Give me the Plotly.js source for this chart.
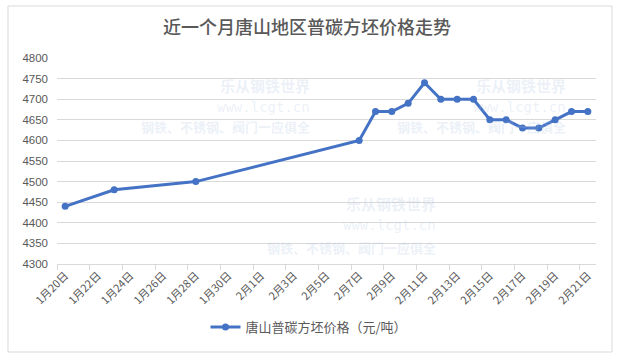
<!DOCTYPE html>
<html><head><meta charset="utf-8">
<script src="https://cdn.plot.ly/plotly-3.0.1.min.js"></script>
<style>html,body{margin:0;padding:0;background:#fff;}#chart{width:622px;height:360px;}</style>
</head><body><div id="chart"></div>
<script>
const dates = ['2023-01-20','2023-01-23','2023-01-28','2023-02-07','2023-02-08','2023-02-09','2023-02-10','2023-02-11','2023-02-12','2023-02-13','2023-02-14','2023-02-15','2023-02-16','2023-02-17','2023-02-18','2023-02-19','2023-02-20','2023-02-21'];
const prices = [4440,4480,4500,4600,4670,4670,4690,4740,4700,4700,4700,4650,4650,4630,4630,4650,4670,4670];
const seriesName = '唐山普碳方坯价格（元/吨）';
const chartTitle = '近一个月唐山地区普碳方坯价格走势';

const L=57, R=596, T=58, B=264, W=R-L, H=B-T;
const px = x => (x-L)/W, py = y => (B-y)/H;
const wmColor = 'rgba(170,195,225,0.24)';
const cjk = '"Noto Sans CJK SC", sans-serif';
function wm(xr, y1, y2, y3){
  return [
    {text:'乐从钢铁世界', x:px(xr), y:py(y1), font:{size:15, color:wmColor, family:cjk, weight:700}},
    {text:'www.lcgt.cn', x:px(xr), y:py(y2), font:{size:14, color:wmColor, family:'"DejaVu Sans Mono", monospace'}},
    {text:'钢铁、不锈钢、阀门一应俱全', x:px(xr), y:py(y3), font:{size:13, color:wmColor, family:cjk, weight:700}}
  ].map(a=>Object.assign(a,{xref:'paper',yref:'paper',xanchor:'right',yanchor:'middle',showarrow:false}));
}
const annotations = [].concat(wm(312,85,107,127), wm(438,203,225,247), wm(568,85,107,127));

const trace = {
  x: dates, y: prices, name: seriesName, type:'scatter', mode:'lines+markers',
  line:{color:'#4472C4', width:3}, marker:{color:'#4472C4', size:7}
};
const layout = {
  width:622, height:360,
  margin:{l:L, r:622-R, t:T, b:360-B},
  paper_bgcolor:'#fff', plot_bgcolor:'#fff',
  font:{family:cjk, color:'#595959'},
  title:{text:chartTitle, x:307/622, xanchor:'center', y:1-28/360, yanchor:'middle', font:{size:18, color:'#595959', family:cjk, weight:500}},
  xaxis:{type:'date', range:['2023-01-19 12:00','2023-02-21 12:00'],
    tick0:'2023-01-20', dtick:2*86400000, tickformat:'%-m月%-d日', tickangle:-45,
    tickfont:{size:11, color:'#595959', family:cjk}, ticks:'', showgrid:false,
    showline:true, linecolor:'#d9d9d9', linewidth:1, zeroline:false,
    minor:{tick0:'2023-01-19 12:00', dtick:2*86400000, ticks:'outside', ticklen:5, tickcolor:'#d9d9d9', showgrid:false}},
  yaxis:{range:[4300,4800], dtick:50, tick0:4300, showgrid:true, gridcolor:'#d9d9d9', gridwidth:1,
    zeroline:false, showline:false, ticks:'', ticklabelstandoff:8,
    tickfont:{size:11.5, color:'#595959', family:'"Liberation Sans", Arial, sans-serif'}},
  showlegend:true,
  legend:{orientation:'h', x:px(309), xanchor:'center', y:py(327), yanchor:'middle',
    font:{size:13, color:'#595959', family:cjk}, bgcolor:'rgba(0,0,0,0)'},
  annotations: annotations,
  shapes:[{type:'rect', xref:'paper', yref:'paper', x0:px(8), x1:px(612), y0:py(352), y1:py(6),
    line:{color:'#d9d9d9', width:1}, fillcolor:'rgba(0,0,0,0)', layer:'below'}]
};
Plotly.newPlot('chart',[trace],layout,{displayModeBar:false, staticPlot:true});
</script></body></html>
